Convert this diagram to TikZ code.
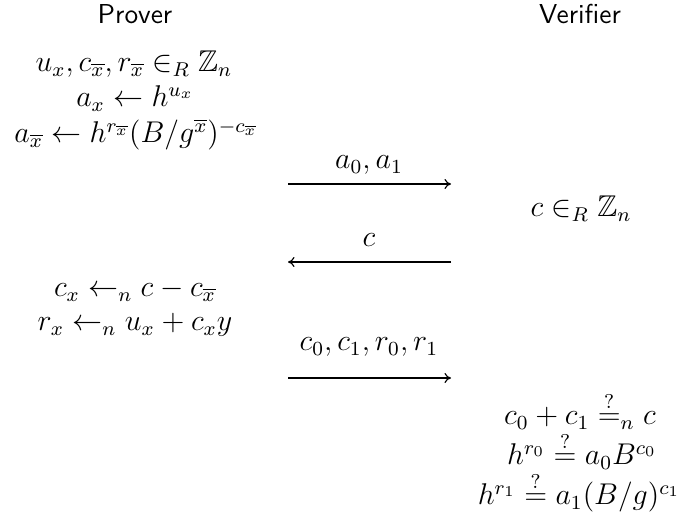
\documentclass[tikz,border=0pt]{standalone}
\usepackage{fix-cm}
\usepackage{amsmath,amssymb}
\usetikzlibrary{arrows.meta}
\begin{document}
\begin{tikzpicture}[x=0.4pt,y=-0.4pt,
  lbl/.style={anchor=base,inner sep=0pt,outer sep=0pt,font=\fontsize{12}{14.5}\selectfont},
  role/.style={anchor=base,inner sep=0pt,font=\fontsize{10.95}{13}\sffamily},
  msg/.style={-{Computer Modern Rightarrow[length=2.6pt,width=4pt]},line width=0.45pt}]
\useasboundingbox (0,0) rectangle (681,525);
% headers
\node[role] (prover) at (135,24) {Prover};
\node[role] (verifier) at (580,24) {Verifier};
% prover commitments
\node[lbl] (p1) at (134,72) {$u_x, c_{\overline{x}}, r_{\overline{x}} \in_R \mathbb{Z}_n$};
\node[lbl] (p2) at (135,107) {$a_x \leftarrow h^{u_x}$};
\node[lbl] (p3) at (136,143) {$a_{\overline{x}} \leftarrow h^{r_{\overline{x}}}(B/g^{\overline{x}})^{-c_{\overline{x}}}$};
% message 1
\coordinate (m1s) at (288,184);
\coordinate (m1e) at (451,184);
\draw[msg] (m1s) -- (m1e);
\node[lbl] (m1l) at (369,169) {$a_0, a_1$};
% verifier challenge
\node[lbl] (v1) at (581,217) {$c \in_R \mathbb{Z}_n$};
% message 2
\coordinate (m2s) at (451,262);
\coordinate (m2e) at (288,262);
\draw[msg] (m2s) -- (m2e);
\node[lbl] (m2l) at (369,247) {$c$};
% prover responses
\node[lbl] (p4) at (135,297) {$c_x \leftarrow_n c - c_{\overline{x}}$};
\node[lbl] (p5) at (135,331) {$r_x \leftarrow_n u_x + c_x y$};
% message 3
\coordinate (m3s) at (288,378);
\coordinate (m3e) at (451,378);
\draw[msg] (m3s) -- (m3e);
\node[lbl] (m3l) at (369,351) {$c_0, c_1, r_0, r_1$};
% verifier checks
\node[lbl] (v2) at (580,425) {$c_0 + c_1 \stackrel{?}{=}_n c$};
\node[lbl] (v3) at (582,465) {$h^{r_0} \stackrel{?}{=} a_0 B^{c_0}$};
\node[lbl] (v4) at (579,505) {$h^{r_1} \stackrel{?}{=} a_1 (B/g)^{c_1}$};
\end{tikzpicture}
\end{document}
